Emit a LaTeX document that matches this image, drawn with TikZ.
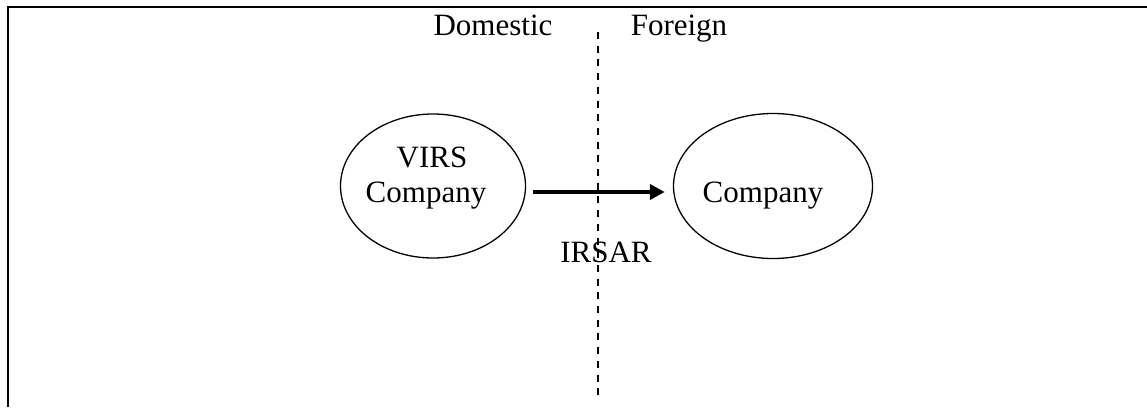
\documentclass[tikz,border=0pt]{standalone}
\usepackage{fontspec}
\setmainfont{Liberation Serif}
\usetikzlibrary{arrows.meta,calc,shapes.geometric}
\begin{document}
\begin{tikzpicture}[x=1pt,y=-1pt,
  lbl/.style={inner sep=0pt,anchor=base,font=\fontsize{31}{35}\selectfont},
  oval/.style={draw,ellipse,line width=1.3pt,inner sep=0pt},
  frameline/.style={line width=2pt},
  divider/.style={line width=1.3pt,dash pattern=on 7pt off 6.7pt},
  flow/.style={line width=4pt,-{Triangle[length=15pt,width=15pt]}}]
\useasboundingbox (0,0) rectangle (1147,407);
\coordinate (ftl) at (8,6.5);
\coordinate (ftr) at (1147,6.5);
\coordinate (fbl) at (8,407);
\draw[frameline] (fbl) -- (ftl) -- (ftr);
\coordinate (dtop) at (598,32);
\coordinate (dbot) at (598,395);
\draw[divider] (dtop) -- (dbot);
\node[lbl] (dom) at (493,35) {Domestic};
\node[lbl] (for) at (679,35) {Foreign};
\node[oval,minimum width=185pt,minimum height=144pt] (vl) at (433,186) {};
\node[oval,minimum width=199pt,minimum height=145pt] (vr) at (773,186) {};
\node[lbl] (virs) at (432,167) {VIRS};
\node[lbl] (comp1) at (426,202) {Company};
\node[lbl] (comp2) at (763,202) {Company};
\node[lbl] (irsar) at (606,262) {IRSAR};
\draw[flow] ($(vl.east)+(7,6)$) -- ($(vr.west)+(-8,6)$);
\end{tikzpicture}
\end{document}
